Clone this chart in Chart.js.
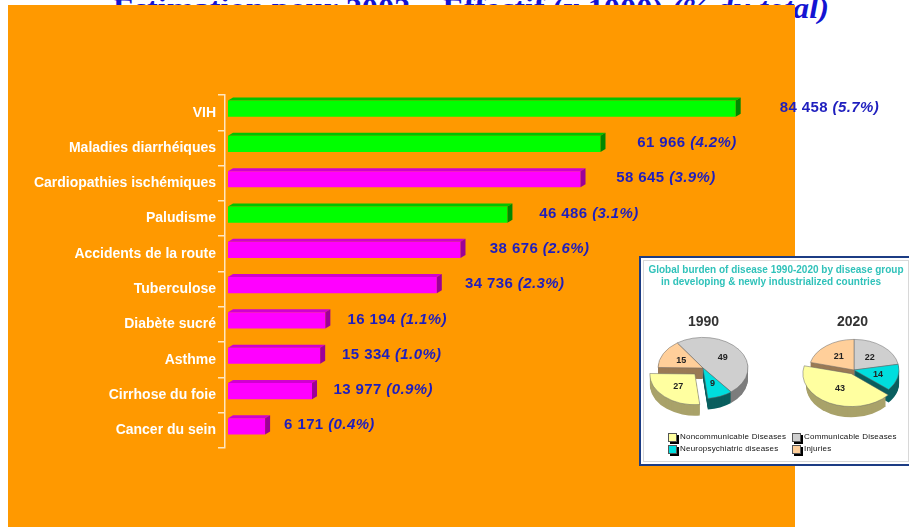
<!DOCTYPE html>
<html><head><meta charset="utf-8">
<script src="https://cdn.jsdelivr.net/npm/chart.js@4.4.0/dist/chart.umd.min.js"></script>
<style>
html,body{margin:0;padding:0;width:909px;height:527px;overflow:hidden;background:#fff;font-family:"Liberation Sans",Arial,sans-serif;}
#title{position:absolute;left:113px;top:-7px;font:bold 30px/30px "Liberation Serif",serif;color:#1414d2;white-space:nowrap;z-index:0;transform-origin:0 0;}
#title i{font-style:italic;}
#main{position:absolute;left:0;top:0;z-index:1;}
#inset{position:absolute;left:639px;top:256px;width:274px;height:210px;box-sizing:border-box;background:#fff;border:2px solid #1c3c84;box-shadow:inset 0 0 0 2px #fff,inset 0 0 0 3px #d8d8d8;z-index:2;}
.it{position:absolute;z-index:3;white-space:nowrap;}
.ptitle{font-weight:bold;font-size:10px;color:#30c2ba;text-align:center;width:270px;left:641px;}
.year{font-weight:bold;font-size:14px;color:#333;}
.pie{position:absolute;z-index:3;}
.lg{font-size:8px;color:#111;letter-spacing:0.2px;}
.mk{position:absolute;z-index:3;width:7px;height:7px;border:1px solid #555;box-shadow:2px 2px 0 #000;}
</style></head>
<body>
<div id="title">Estimation pour 2002 – Effectif (x 1000) <i>(% du total)</i></div>
<canvas id="main" width="909" height="527"></canvas>
<div id="inset"></div>
<div class="it ptitle" style="top:264px;">Global burden of disease 1990-2020 by disease group</div>
<div class="it ptitle" style="top:276px;left:636px;">in developing &amp; newly industrialized countries</div>
<div class="it year" style="left:688px;top:313px;">1990</div>
<div class="it year" style="left:837px;top:313px;">2020</div>
<canvas class="pie" id="p1990" width="140" height="140" style="left:633px;top:298px;"></canvas>
<canvas class="pie" id="p2020" width="140" height="140" style="left:784px;top:300px;"></canvas>
<div class="mk" style="left:668px;top:433px;background:#ffffa0;"></div>
<div class="it lg" style="left:680px;top:432px;">Noncommunicable Diseases</div>
<div class="mk" style="left:792px;top:433px;background:#cfcfcf;"></div>
<div class="it lg" style="left:804px;top:432px;">Communicable Diseases</div>
<div class="mk" style="left:668px;top:445px;background:#00dede;"></div>
<div class="it lg" style="left:680px;top:444px;">Neuropsychiatric diseases</div>
<div class="mk" style="left:792px;top:445px;background:#ffcf9a;"></div>
<div class="it lg" style="left:804px;top:444px;">Injuries</div>
<script>
// ---- data ----
const categories = ['VIH','Maladies diarrhéiques','Cardiopathies ischémiques','Paludisme','Accidents de la route','Tuberculose','Diabète sucré','Asthme','Cirrhose du foie','Cancer du sein'];
const deaths = [84458,61966,58645,46486,38676,34736,16194,15334,13977,6171];
const shares = ['5.7%','4.2%','3.9%','3.1%','2.6%','2.3%','1.1%','1.0%','0.9%','0.4%'];
const greenBar = [true,true,false,true,false,false,false,false,false,false];

const pieGroups = ['Communicable Diseases','Neuropsychiatric diseases','Noncommunicable Diseases','Injuries'];
const pie1990 = [49, 9, 27, 15];
const pie2020 = [22, 14, 43, 21];

// ---- styles ----
const frontCol = greenBar.map(g => g ? '#00ff00' : '#ff00ff');
const topCol = greenBar.map(g => g ? '#00c200' : '#d000d0');
const sideCol = greenBar.map(g => g ? '#008800' : '#9c0098');
const labelColor = '#1e1ebe';
const fmt = v => String(v).replace(/\B(?=(\d{3})+(?!\d))/g, ' ');

const bars3d = {
  id: 'bars3d',
  beforeDraw(chart) {
    const c = chart.ctx; c.save(); c.fillStyle = '#ff9900'; c.fillRect(8, 5, 787, 522); c.restore();
  },
  beforeDatasetsDraw(chart) { chart.ctx.save(); chart.ctx.translate(0, -4); },
  afterDatasetsDraw(chart) {
    const ctx = chart.ctx;
    const meta = chart.getDatasetMeta(0);
    const dx = 5, dy = 3;
    meta.data.forEach((bar, i) => {
      const p = bar.getProps(['x', 'y', 'base', 'height'], true);
      const t = p.y - p.height / 2, b = p.y + p.height / 2;
      ctx.fillStyle = topCol[i];
      ctx.beginPath(); ctx.moveTo(p.base, t); ctx.lineTo(p.base + dx, t - dy); ctx.lineTo(p.x + dx, t - dy); ctx.lineTo(p.x, t); ctx.closePath(); ctx.fill();
      ctx.fillStyle = sideCol[i];
      ctx.beginPath(); ctx.moveTo(p.x, t); ctx.lineTo(p.x + dx, t - dy); ctx.lineTo(p.x + dx, b - dy); ctx.lineTo(p.x, b); ctx.closePath(); ctx.fill();
    });
    ctx.restore();
    ctx.save();
    ctx.textBaseline = 'middle';
    ctx.fillStyle = labelColor;
    if ('letterSpacing' in ctx) ctx.letterSpacing = '0.4px';
    meta.data.forEach((bar, i) => {
      const v = deaths[i];
      const lx = bar.x + 17 + v * 0.00032, ly = bar.y - 5;
      ctx.font = 'bold 15px "Liberation Sans"';
      const num = fmt(v) + ' ';
      ctx.fillText(num, lx, ly);
      const w = ctx.measureText(num).width;
      ctx.font = 'italic bold 15px "Liberation Sans"';
      ctx.fillText('(' + shares[i] + ')', lx + w, ly);
    });
    ctx.restore();
  }
};

new Chart(document.getElementById('main'), {
  type: 'bar',
  data: { labels: categories, datasets: [{ data: deaths, backgroundColor: frontCol, borderWidth: 0, categoryPercentage: 1, barPercentage: 0.46 }] },
  options: {
    responsive: false, animation: false, events: [], indexAxis: 'y',
    layout: { padding: { left: 0, right: 140, top: 95, bottom: 79 } },
    plugins: { legend: { display: false }, tooltip: { enabled: false } },
    scales: {
      x: { display: false, min: -500, max: 90000 },
      y: {
        afterFit(s) { s.width = 225; },
        grid: { offset: true, drawOnChartArea: false, drawTicks: true, tickLength: 7, color: '#ffe6bf', lineWidth: 1.5 },
        border: { display: true, color: '#ffe6bf', width: 1.5 },
        ticks: { color: '#ffffff', padding: 2, autoSkip: false, font: { family: 'Liberation Sans', size: 14, weight: 'bold' } }
      }
    }
  },
  plugins: [bars3d]
});

// ---- 3D pies ----
const flatPie = {
  id: 'flatPie',
  beforeDatasetsDraw(chart, args, o) {
    const ctx = chart.ctx, meta = chart.getDatasetMeta(0);
    const cx = meta.data[0].x, cy = meta.data[0].y;
    ctx.save();
    ctx.translate(cx, cy); ctx.scale(1, o.k); ctx.translate(-cx, -cy);
    for (let d = o.depth; d >= 1; d--) {
      meta.data.forEach((arc, i) => {
        const off = (arc.options.offset || 0) / 4, mid = (arc.startAngle + arc.endAngle) / 2;
        const x = arc.x + Math.cos(mid) * off, y = arc.y + Math.sin(mid) * off + d / o.k;
        ctx.beginPath(); ctx.moveTo(x, y); ctx.arc(x, y, arc.outerRadius, arc.startAngle, arc.endAngle); ctx.closePath();
        ctx.fillStyle = o.sides[i]; ctx.fill();
      });
    }
  },
  afterDatasetsDraw(chart, args, o) {
    const ctx = chart.ctx, meta = chart.getDatasetMeta(0);
    ctx.restore();
    ctx.save();
    ctx.font = 'bold 9px "Liberation Sans"'; ctx.fillStyle = '#222'; ctx.textAlign = 'center'; ctx.textBaseline = 'middle';
    const vals = chart.data.datasets[0].data;
    meta.data.forEach((arc, i) => {
      const off = (arc.options.offset || 0) / 4, mid = (arc.startAngle + arc.endAngle) / 2;
      const r = arc.outerRadius * 0.55 + off;
      ctx.fillText(String(vals[i]), arc.x + Math.cos(mid) * r, arc.y + Math.sin(mid) * r * o.k);
    });
    ctx.restore();
  }
};
const pieTops = ['#cfcfcf', '#00dede', '#ffffa0', '#ffcf9a'];
const pieSides = ['#7d7d7d', '#0a5f5f', '#a9a26a', '#9a7a55'];
function makePie(id, values, rotation, offsets, depth) {
  new Chart(document.getElementById(id), {
    type: 'pie',
    data: { labels: pieGroups, datasets: [{ data: values, backgroundColor: pieTops, borderColor: '#666', borderWidth: 0.6, offset: offsets, radius: 45, clip: false }] },
    options: {
      responsive: false, animation: false, events: [], rotation: rotation, radius: 45,
      layout: { padding: 0 },
      plugins: { legend: { display: false }, tooltip: { enabled: false }, flatPie: { k: 0.68, depth: depth, sides: pieSides } }
    },
    plugins: [flatPie]
  });
}
makePie('p1990', pie1990, -35, [0, 0, 48, 0], 11);
makePie('p2020', pie2020, 0, [0, 0, 24, 0], 13);

// fit title width to the reference span
(function () {
  const t = document.getElementById('title');
  const w = t.getBoundingClientRect().width;
  t.style.transform = 'scaleX(' + (716 / w) + ')';
})();
</script>
</body></html>
